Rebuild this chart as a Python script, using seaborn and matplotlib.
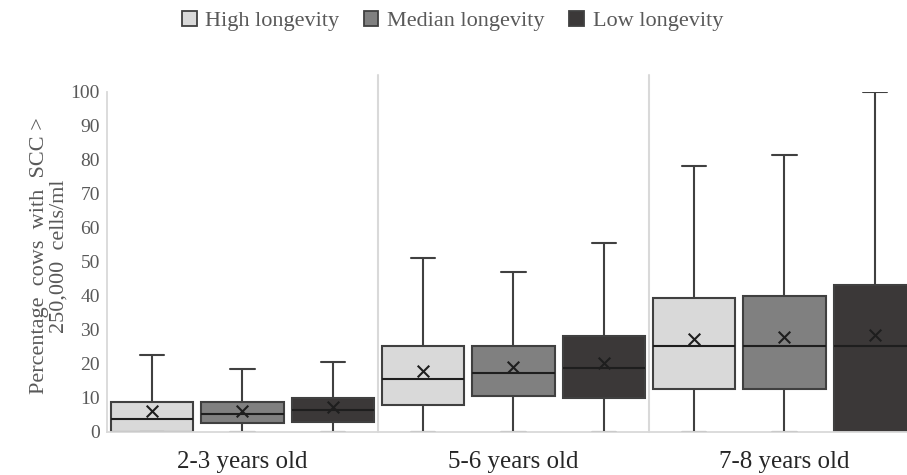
import numpy as np
import pandas as pd
import matplotlib
matplotlib.use("Agg")
import matplotlib.pyplot as plt
import seaborn as sns

# Age groups and longevity classes
age_groups = ["2-3 years old", "5-6 years old", "7-8 years old"]
longevity = ["High longevity", "Median longevity", "Low longevity"]

# Box summaries (% cows with SCC > 250,000 cells/ml), one row per age group,
# one column per longevity class
whisker_low = [[0.0, 0.0, 0.0],
               [0.0, 0.0, 0.0],
               [0.0, 0.0, 0.0]]
quartile_1 = [[0.0, 2.6, 3.0],
              [7.9, 10.7, 10.0],
              [12.6, 12.6, 0.0]]
medians = [[3.8, 5.3, 6.4],
           [15.6, 17.4, 18.7],
           [25.3, 25.3, 25.3]]
quartile_3 = [[8.8, 8.8, 10.0],
              [25.2, 25.2, 28.2],
              [39.4, 40.1, 43.2]]
whisker_high = [[22.6, 18.5, 20.6],
                [51.1, 47.1, 55.6],
                [78.2, 81.4, 100.0]]
means = [[6.2, 6.2, 7.4],
         [18.0, 19.0, 20.2],
         [27.4, 27.9, 28.5]]

y_ticks = list(range(0, 101, 10))

fill_colors = ["#d9d9d9", "#808080", "#3b3838"]
edge_color = "#404040"
grid_gray = "#d9d9d9"
text_gray = "#595959"

# Five-number rows per box: with linear percentiles the quartiles of
# [min, q1, median, q3, max] are exactly q1, median and q3.
rows = []
for gi, grp in enumerate(age_groups):
    for hi, lev in enumerate(longevity):
        for v in (whisker_low[gi][hi], quartile_1[gi][hi], medians[gi][hi],
                  quartile_3[gi][hi], whisker_high[gi][hi]):
            rows.append({"age": grp, "class": lev, "pct": v})
df = pd.DataFrame(rows)

sns.set_theme(style="white")
plt.rcParams["font.family"] = ["Liberation Serif", "DejaVu Serif"]

fig = plt.figure(figsize=(9.07, 4.75), dpi=100)
ax = fig.add_axes([107 / 907, 43 / 475, 813 / 907, 340 / 475])

box_width = 1.0
sns.boxplot(
    data=df, x="age", y="pct", hue="class",
    order=age_groups, hue_order=longevity,
    palette=fill_colors, saturation=1,
    width=box_width, gap=0.09, whis=(0, 100), showfliers=False,
    linewidth=1.5, linecolor=edge_color, capwidths=0.09,
    medianprops={"color": "#1e1e1e"},
    ax=ax,
)

# Mean markers at the dodged box centres
n = len(longevity)
for gi in range(len(age_groups)):
    for hi in range(n):
        x = gi - box_width / 2 + box_width / (2 * n) + hi * box_width / n
        ax.scatter(x, means[gi][hi], marker="x", s=70, color="#1e1e1e",
                   linewidths=1.5, zorder=5)

# Light separators between the age groups
for sep in np.arange(0.5, len(age_groups) - 0.5, 1.0):
    ax.plot([sep, sep], [0, 105], color=grid_gray, lw=1.5,
            clip_on=False, zorder=0)

ax.set_xlim(-0.5, len(age_groups) - 0.5)
ax.set_ylim(0, 100)
ax.set_yticks(y_ticks)
ax.set_yticklabels([str(t) for t in y_ticks])
ax.set_xlabel("")
ax.set_ylabel("Percentage  cows  with  SCC >\n250,000  cells/ml",
              fontsize=16, color=text_gray, linespacing=1.05)
ax.yaxis.set_label_coords(-0.047, 0.518)

ax.tick_params(axis="y", labelsize=14, colors=text_gray, length=0, pad=5)
ax.tick_params(axis="x", labelsize=18, colors="#262626", length=0, pad=14)

for side in ("top", "right"):
    ax.spines[side].set_visible(False)
for side in ("left", "bottom"):
    ax.spines[side].set_color(grid_gray)
    ax.spines[side].set_linewidth(1.3)

sns.move_legend(
    ax, "center", bbox_to_anchor=(0.499, 0.955), bbox_transform=fig.transFigure,
    ncol=3, frameon=False, title=None, fontsize=16,
    handlelength=0.65, handleheight=0.65, handletextpad=0.4,
    columnspacing=1.1,
)
for t in ax.get_legend().get_texts():
    t.set_color(text_gray)
for h in ax.get_legend().legend_handles:
    h.set_edgecolor(edge_color)
    h.set_linewidth(1.3)

fig.savefig("out.png", dpi=100)
